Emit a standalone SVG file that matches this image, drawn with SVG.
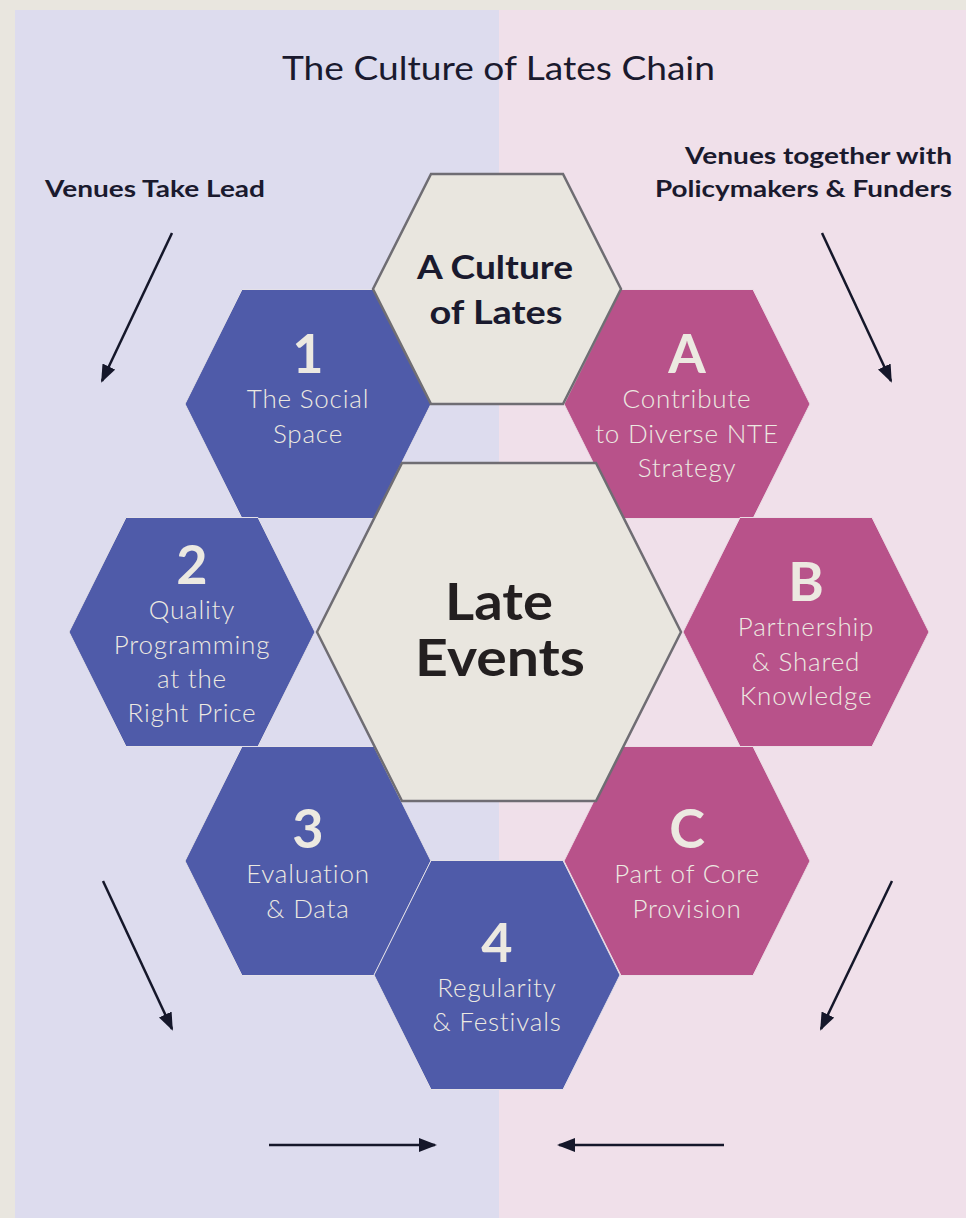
<svg xmlns="http://www.w3.org/2000/svg" width="966" height="1218" viewBox="0 0 966 1218">
  <style>
    .blue { fill: #4f5ba9; stroke: #e4e1e8; stroke-width: 1; }
    .pink { fill: #b8528a; stroke: #ecdde5; stroke-width: 1; }
    .core { fill: #e9e6df; stroke: #6f6d73; stroke-width: 2.5; stroke-linejoin: miter; }
    .num { font-family: Lato, "Noto Sans", sans-serif; font-weight: 700; font-size: 54px; fill: #ece9e1; text-anchor: middle; }
    .lbl { font-family: Lato, "Noto Sans", sans-serif; font-weight: 300; font-size: 26px; letter-spacing: 0.8px; fill: #ece9e1; text-anchor: middle; }
    .core-lbl { font-family: Lato, "Noto Sans", sans-serif; font-weight: 700; fill: #1a1a2e; text-anchor: middle; }
    .dark { fill: #231f20; }
    .head { font-family: Lato, "Noto Sans", sans-serif; font-weight: 700; font-size: 23px; fill: #1a1a2e; }
    .title { font-family: Lato, "Noto Sans", sans-serif; font-weight: 400; font-size: 33px; fill: #1a1a2e; text-anchor: middle; }
    .arrow { stroke: #15172a; stroke-width: 2.5; fill: none; marker-end: url(#head); }
  </style>
  <defs>
    <polygon id="hex" points="-123,0 -66,-114.5 66,-114.5 123,0 66,114.5 -66,114.5"/>
    <marker id="head" viewBox="0 0 18 14" refX="16" refY="7" markerWidth="18" markerHeight="14" markerUnits="userSpaceOnUse" orient="auto">
      <path d="M0,0 L18,7 L0,14 Z" fill="#15172a"/>
    </marker>
  </defs>

  <!-- backdrop and the two halves -->
  <rect x="0" y="0" width="966" height="1218" fill="#e9e6df"/>
  <rect x="15" y="10" width="484" height="1208" fill="#dddcee"/>
  <rect x="499" y="10" width="467" height="1208" fill="#f0e0ea"/>

  <text class="title" x="498.5" y="80" textLength="433" lengthAdjust="spacingAndGlyphs">The Culture of Lates Chain</text>

  <text class="head" x="45" y="197" textLength="220" lengthAdjust="spacingAndGlyphs">Venues Take Lead</text>
  <text class="head" x="952" y="164" text-anchor="end" textLength="267" lengthAdjust="spacingAndGlyphs">Venues together with</text>
  <text class="head" x="952" y="197" text-anchor="end" textLength="297" lengthAdjust="spacingAndGlyphs">Policymakers &amp; Funders</text>

  <!-- connectors -->
  <g id="connectors">
    <line class="arrow" x1="172" y1="233" x2="102" y2="381"/>
    <line class="arrow" x1="822" y1="233" x2="891" y2="381"/>
    <line class="arrow" x1="103" y1="881" x2="172" y2="1029"/>
    <line class="arrow" x1="892" y1="881" x2="821" y2="1029"/>
    <line class="arrow" x1="269" y1="1145" x2="435" y2="1145"/>
    <line class="arrow" x1="724" y1="1145" x2="559" y2="1145"/>
  </g>

  <!-- venue-led steps -->
  <g id="step-1">
    <use href="#hex" x="308" y="404" class="blue"/>
    <text class="num" x="308" y="373">1</text>
    <text class="lbl" x="308" y="408">The Social</text>
    <text class="lbl" x="308" y="443">Space</text>
  </g>
  <g id="step-2">
    <use href="#hex" x="192" y="632" class="blue"/>
    <text class="num" x="192" y="584">2</text>
    <text class="lbl" x="192" y="619">Quality</text>
    <text class="lbl" x="192" y="654">Programming</text>
    <text class="lbl" x="192" y="688">at the</text>
    <text class="lbl" x="192" y="722">Right Price</text>
  </g>
  <g id="step-3">
    <use href="#hex" x="308" y="861" class="blue"/>
    <text class="num" x="308" y="848">3</text>
    <text class="lbl" x="308" y="883">Evaluation</text>
    <text class="lbl" x="308" y="918">&amp; Data</text>
  </g>
  <g id="step-4">
    <use href="#hex" x="497" y="975" class="blue"/>
    <text class="num" x="497" y="962">4</text>
    <text class="lbl" x="497" y="997">Regularity</text>
    <text class="lbl" x="497" y="1031">&amp; Festivals</text>
  </g>

  <!-- shared steps with policymakers and funders -->
  <g id="step-a">
    <use href="#hex" x="687" y="404" class="pink"/>
    <text class="num" x="687" y="373">A</text>
    <text class="lbl" x="687" y="408">Contribute</text>
    <text class="lbl" x="687" y="443">to Diverse NTE</text>
    <text class="lbl" x="687" y="477">Strategy</text>
  </g>
  <g id="step-b">
    <use href="#hex" x="806" y="632" class="pink"/>
    <text class="num" x="806" y="601">B</text>
    <text class="lbl" x="806" y="636">Partnership</text>
    <text class="lbl" x="806" y="671">&amp; Shared</text>
    <text class="lbl" x="806" y="705">Knowledge</text>
  </g>
  <g id="step-c">
    <use href="#hex" x="687" y="861" class="pink"/>
    <text class="num" x="687" y="848">C</text>
    <text class="lbl" x="687" y="883">Part of Core</text>
    <text class="lbl" x="687" y="918">Provision</text>
  </g>

  <!-- outcome and core -->
  <g id="culture-of-lates">
    <polygon class="core" points="431,174 563,174 621,289 563,404 431,404 373,289"/>
    <text class="core-lbl" x="495" y="279" font-size="32" textLength="156" lengthAdjust="spacingAndGlyphs">A Culture</text>
    <text class="core-lbl" x="496" y="324" font-size="32" textLength="133" lengthAdjust="spacingAndGlyphs">of Lates</text>
  </g>
  <g id="late-events">
    <polygon class="core" points="402,463 596,463 681,632 596,801 402,801 317,632"/>
    <text class="core-lbl dark" x="499" y="620" font-size="52" textLength="108" lengthAdjust="spacingAndGlyphs">Late</text>
    <text class="core-lbl dark" x="500" y="676" font-size="52" textLength="170" lengthAdjust="spacingAndGlyphs">Events</text>
  </g>
</svg>
